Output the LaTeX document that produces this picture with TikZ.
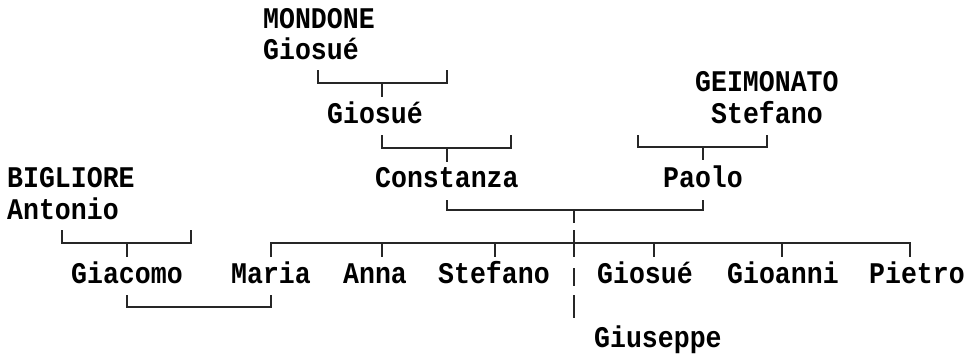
\documentclass[tikz,border=0pt]{standalone}
\usepackage{fontspec}
\setmonofont[FakeStretch=0.885,BoldFont={Liberation Mono Bold}]{Liberation Mono}
\begin{document}
\begin{tikzpicture}[x=1pt,y=-1pt,
  person/.style={anchor=base west, inner sep=0pt, font=\ttfamily\bfseries\fontsize{30}{30}\selectfont},
  ln/.style={line width=1.8pt, draw=black!85}]
\useasboundingbox (0,0) rectangle (967,356);
% people
\node[person] (mondone) at (263,28) {MONDONE};
\node[person] (giosueA) at (263,59) {Giosué};
\node[person] (giosueB) at (327,123) {Giosué};
\node[person] (geim) at (695,91) {GEIMONATO};
\node[person] (stefA) at (711,123) {Stefano};
\node[person] (bigl) at (7,187) {BIGLIORE};
\node[person] (const) at (375,187) {Constanza};
\node[person] (paolo) at (663,187) {Paolo};
\node[person] (antonio) at (7,219) {Antonio};
\node[person] (giacomo) at (71,283) {Giacomo};
\node[person] (maria) at (231,283) {Maria};
\node[person] (anna) at (343,283) {Anna};
\node[person] (stefB) at (438,283) {Stefano};
\node[person] (giosueC) at (597,283) {Giosué};
\node[person] (gioanni) at (727,283) {Gioanni};
\node[person] (pietro) at (869,283) {Pietro};
\node[person] (giuseppe) at (594,347) {Giuseppe};
% bracket points
\coordinate (m1) at (318,70); \coordinate (m2) at (447,70);
\coordinate (m3) at (382,97);
\coordinate (g1) at (382,135); \coordinate (g2) at (511,135);
\coordinate (g3) at (447,162);
\coordinate (s1) at (638,135); \coordinate (s2) at (767,135);
\coordinate (s3) at (703,160);
\coordinate (c1) at (447,200); \coordinate (c2) at (703,200);
\coordinate (c3) at (574,223);
\coordinate (a1) at (62,230); \coordinate (a2) at (191,230);
\coordinate (a3) at (127,257);
\coordinate (k1) at (271,257); \coordinate (k2) at (910,257);
\coordinate (kA) at (382,257); \coordinate (kS) at (495,257);
\coordinate (kG) at (654,257); \coordinate (kI) at (782,257);
\coordinate (v1) at (574,230); \coordinate (v2) at (574,257);
\coordinate (v3) at (574,268); \coordinate (v4) at (574,286);
\coordinate (v5) at (574,295); \coordinate (v6) at (574,318);
\coordinate (w1) at (127,295); \coordinate (w2) at (271,295);
% MONDONE Giosue bracket
\draw[ln] (m1) |- (383,83) -| (m2);
\draw[ln] (m3 |- 0,83) -- (m3);
% Giosue bracket
\draw[ln] (g1) |- (447,148) -| (g2);
\draw[ln] (g3 |- 0,148) -- (g3);
% GEIMONATO Stefano bracket
\draw[ln] (s1) |- (703,147) -| (s2);
\draw[ln] (s3 |- 0,147) -- (s3);
% Constanza - Paolo bracket
\draw[ln] (c1) |- (574,210) -| (c2);
\draw[ln] (c3 |- 0,210) -- (c3);
% BIGLIORE Antonio bracket
\draw[ln] (a1) |- (127,243) -| (a2);
\draw[ln] (a3 |- 0,243) -- (a3);
% children bar
\draw[ln] (k1) |- (574,243) -| (k2);
\foreach \c in {kA,kS,kG,kI} \draw[ln] (\c |- 0,243) -- (\c);
\draw[ln] (v1) -- (v2);
\draw[ln] (v3) -- (v4);
\draw[ln] (v5) -- (v6);
% Giacomo - Maria bracket
\draw[ln] (w1) |- (200,307) -| (w2);
\end{tikzpicture}
\end{document}
